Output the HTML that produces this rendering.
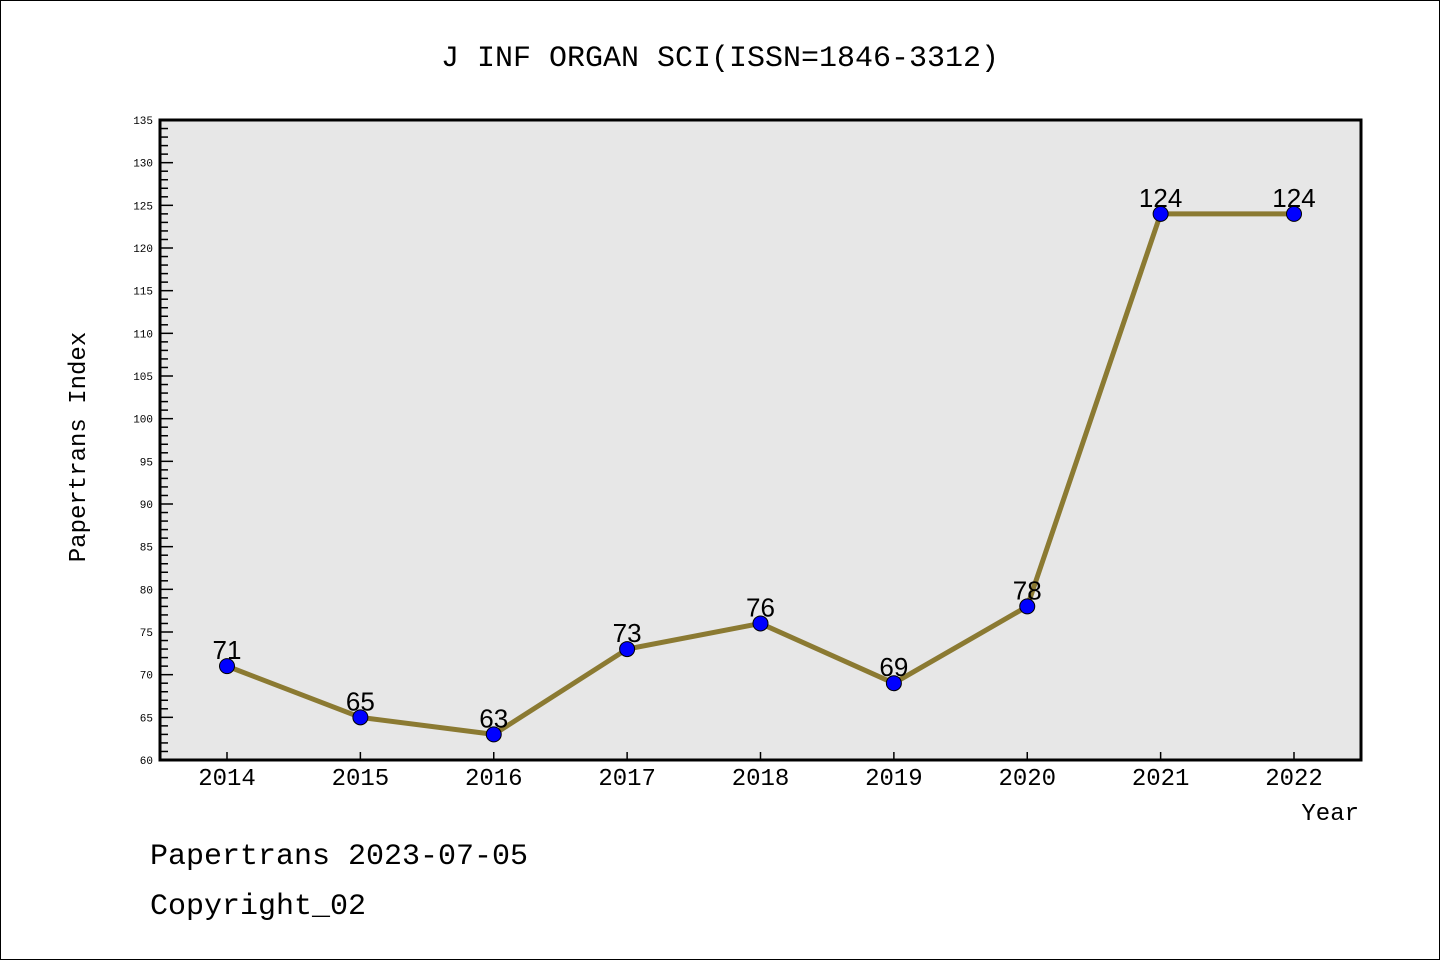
<!DOCTYPE html>
<html><head><meta charset="utf-8"><style>
body{margin:0;background:#fff}
svg{display:block;font-family:"Liberation Mono","DejaVu Sans Mono",monospace}
</style></head><body>
<svg width="1440" height="960">
<rect x="0.5" y="0.5" width="1439" height="959" fill="#fff" stroke="#000"/>
<text x="720" y="66" text-anchor="middle" font-size="30">J INF ORGAN SCI(ISSN=1846-3312)</text>
<rect x="160" y="120" width="1201" height="640" fill="#e7e7e7"/>
<g id="ticks"></g>
<g id="series"></g>
<rect x="160" y="120" width="1201" height="640" fill="none" stroke="#000" stroke-width="3"/>
<text transform="translate(85,447) rotate(-90)" text-anchor="middle" font-size="24">Papertrans Index</text>
<text x="1359" y="820" text-anchor="end" font-size="24">Year</text>
<text x="150" y="864" font-size="30">Papertrans 2023-07-05</text>
<text x="150" y="914" font-size="30">Copyright_02</text>
</svg>
<script>
const years=["2014","2015","2016","2017","2018","2019","2020","2021","2022"];
const values=[71,65,63,73,76,69,78,124,124];
const yMin=60,yMax=135;
const NS="http://www.w3.org/2000/svg";
function x(i){return 227+i*(1294-227)/(years.length-1);}
function y(v){return 760-(v-yMin)*640/(yMax-yMin);}
function mk(t,a,p){const e=document.createElementNS(NS,t);for(const k in a)e.setAttribute(k,a[k]);p.appendChild(e);return e;}
const tg=document.getElementById('ticks');
for(let v=yMin;v<=yMax;v++){
 const major=v%5===0;
 const l=mk('line',{x1:160,x2:major?173:168,y1:y(v),y2:y(v),stroke:'#000','stroke-width':1.5},tg);
 
 
 if(major){const t=mk('text',{x:153,y:y(v)+4,'text-anchor':'end','font-size':11},tg);t.textContent=v;
 
 }
}
years.forEach((yr,i)=>{
 const l=mk('line',{x1:x(i),x2:x(i),y1:760,y2:752,stroke:'#000','stroke-width':1.5},tg);
 
 
 const t=mk('text',{x:x(i),y:785,'text-anchor':'middle','font-size':24},tg);t.textContent=yr;
 
 
});
const sg=document.getElementById('series');
const pl=mk('polyline',{points:values.map((v,i)=>x(i)+','+y(v)).join(' '),fill:'none',stroke:'#8b7a32','stroke-width':5,'stroke-linejoin':'round'},sg);


values.forEach((v,i)=>{
 const c=mk('circle',{cx:x(i),cy:y(v),r:7.5,fill:'#0000ff',stroke:'#000','stroke-width':1},sg);
 
 
 const t=mk('text',{x:x(i),y:y(v)-7,'text-anchor':'middle','font-size':26,'font-family':'"Liberation Sans",sans-serif'},sg);t.textContent=v;
 
 
});
</script>
</body></html>
